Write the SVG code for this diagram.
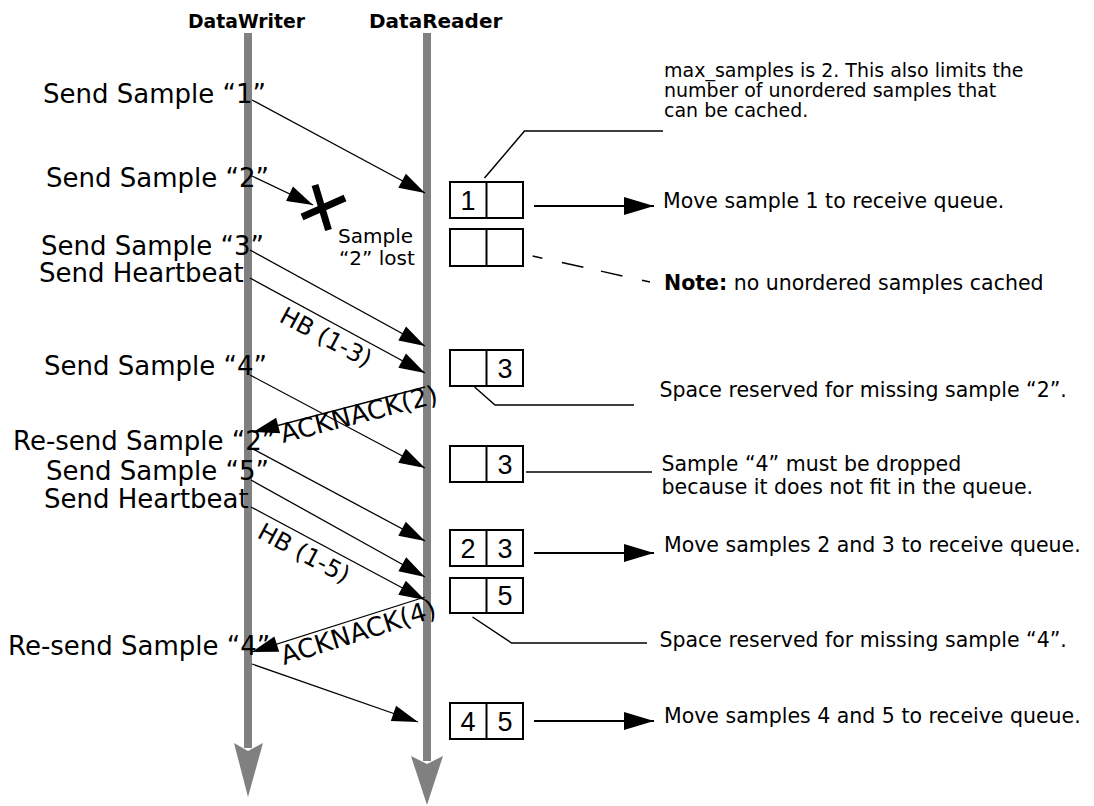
<svg xmlns="http://www.w3.org/2000/svg" width="1094" height="806" viewBox="0 0 1094 806">
<defs>
<style>
.hdr{font-family:"DejaVu Sans",sans-serif;font-weight:bold;font-size:20px;fill:#000}
.lbl{font-family:"DejaVu Sans",sans-serif;font-size:26px;fill:#000}
.rot{font-family:"DejaVu Sans",sans-serif;font-size:24px;fill:#000}
.ack{font-family:"DejaVu Sans",sans-serif;font-size:26px;fill:#000}
.sm{font-family:"DejaVu Sans",sans-serif;font-size:20px;fill:#000}
.note{font-family:"DejaVu Sans",sans-serif;font-size:20.5px;fill:#000}
.top{font-family:"DejaVu Sans",sans-serif;font-size:19px;fill:#000}
.dig{font-family:"Liberation Sans",Arial,sans-serif;font-size:27px;fill:#000;text-anchor:middle}
.life{stroke:#808080;stroke-width:8;fill:none}
.lifeh{fill:#808080}
.msg{stroke:#000;stroke-width:1.3;fill:none;marker-end:url(#ah)}
.out{stroke:#000;stroke-width:2;fill:none;marker-end:url(#ah2)}
.lead{stroke:#000;stroke-width:1.5;fill:none}
.box{fill:#fff;stroke:#000;stroke-width:2}
</style>
<marker id="ah" markerUnits="userSpaceOnUse" viewBox="-28 -9 29 18" refX="0" refY="0" markerWidth="29" markerHeight="18" orient="auto"><path d="M0,0 L-26,-8 L-26,8 Z" fill="#000"/></marker>
<marker id="ah2" markerUnits="userSpaceOnUse" viewBox="-31 -10 32 20" refX="0" refY="0" markerWidth="32" markerHeight="20" orient="auto"><path d="M0,0 L-30,-9 L-30,9 Z" fill="#000"/></marker>
</defs>
<rect width="1094" height="806" fill="#fff"/>

<g id="lifeline-writer">
<text class="hdr" x="188" y="28" textLength="117" lengthAdjust="spacingAndGlyphs">DataWriter</text>
<line class="life" x1="248" y1="33" x2="248" y2="748"/>
<polygon class="lifeh" points="234,743 248,751 263,743 248,797"/>
</g>
<g id="lifeline-reader">
<text class="hdr" x="369" y="28">DataReader</text>
<line class="life" x1="427" y1="33" x2="427" y2="761"/>
<polygon class="lifeh" points="411,756 427,764 443,756 427,805"/>
</g>

<g id="labels">
<text class="lbl" x="43" y="103">Send Sample “1”</text>
<text class="lbl" x="46" y="187">Send Sample “2”</text>
<text class="lbl" x="41" y="255">Send Sample “3”</text>
<text class="lbl" x="39" y="282">Send Heartbeat</text>
<text class="lbl" x="44" y="375">Send Sample “4”</text>
<text class="lbl" x="13" y="450">Re-send Sample “2”</text>
<text class="lbl" x="46" y="480">Send Sample “5”</text>
<text class="lbl" x="44" y="508">Send Heartbeat</text>
<text class="lbl" x="8" y="655">Re-send Sample “4”</text>
</g>

<g id="lost">
<line x1="302" y1="217" x2="345" y2="198" stroke="#000" stroke-width="7"/>
<line x1="315" y1="185" x2="328.5" y2="230" stroke="#000" stroke-width="7"/>
<text class="sm" x="338" y="243">Sample</text>
<text class="sm" x="339" y="265">“2” lost</text>
</g>

<g id="connectors">
<line class="msg" x1="252" y1="100" x2="425" y2="193"/>
<line class="msg" x1="252" y1="176" x2="313" y2="205"/>
<line class="msg" x1="250" y1="250" x2="425" y2="346"/>
<line class="msg" x1="250" y1="278" x2="425" y2="373"/>
<line class="msg" x1="250" y1="375" x2="425" y2="468"/>
<line class="msg" x1="425" y1="387" x2="253" y2="432"/>
<line class="msg" x1="251" y1="448" x2="425" y2="541"/>
<line class="msg" x1="251" y1="480" x2="425" y2="577"/>
<line class="msg" x1="251" y1="507" x2="425" y2="600"/>
<line class="msg" x1="425" y1="597" x2="252" y2="652"/>
<line class="msg" x1="252" y1="664" x2="418" y2="722"/>
<line class="out" x1="534" y1="206" x2="654" y2="206"/>
<line class="out" x1="534" y1="553" x2="654" y2="553"/>
<line class="out" x1="534" y1="721" x2="654" y2="721"/>
<polyline class="lead" points="484.5,178 524.5,131 663,131"/>
<line class="lead" x1="532.6" y1="256" x2="650" y2="282" stroke-dasharray="10 20 22 18 22 20 9"/>
<polyline class="lead" points="474.6,387 495,405 634,405"/>
<line class="lead" x1="526" y1="472" x2="652" y2="472"/>
<polyline class="lead" points="472.5,617 511.6,643 647,643"/>
</g>

<g id="msg-labels">
<text class="rot" transform="translate(278,321) rotate(28)">HB (1-3)</text>
<text class="rot" transform="translate(256,537) rotate(28)">HB (1-5)</text>
<text class="ack" transform="translate(283,443) rotate(-14.5)">ACKNACK(2)</text>
<text class="ack" transform="translate(284,665) rotate(-17.5)">ACKNACK(4)</text>
</g>

<g id="box1"><rect class="box" x="450" y="182" width="73" height="36"/><line class="box" x1="486.5" y1="182" x2="486.5" y2="218"/><text class="dig" x="468" y="210">1</text></g>
<g id="box2"><rect class="box" x="450" y="229" width="73" height="37"/><line class="box" x1="486.5" y1="229" x2="486.5" y2="266"/></g>
<g id="box3"><rect class="box" x="450" y="350" width="73" height="36"/><line class="box" x1="486.5" y1="350" x2="486.5" y2="386"/><text class="dig" x="505" y="378">3</text></g>
<g id="box4"><rect class="box" x="450" y="446" width="73" height="36"/><line class="box" x1="486.5" y1="446" x2="486.5" y2="482"/><text class="dig" x="505" y="474">3</text></g>
<g id="box5"><rect class="box" x="450" y="530" width="73" height="36"/><line class="box" x1="486.5" y1="530" x2="486.5" y2="566"/><text class="dig" x="468" y="558">2</text><text class="dig" x="505" y="558">3</text></g>
<g id="box6"><rect class="box" x="450" y="578" width="73" height="35"/><line class="box" x1="486.5" y1="578" x2="486.5" y2="613"/><text class="dig" x="505" y="605">5</text></g>
<g id="box7"><rect class="box" x="450" y="703" width="73" height="36"/><line class="box" x1="486.5" y1="703" x2="486.5" y2="739"/><text class="dig" x="468" y="731">4</text><text class="dig" x="505" y="731">5</text></g>

<g id="annotations">
<text class="top" x="664" y="77">max_samples is 2. This also limits the</text>
<text class="top" x="664" y="97">number of unordered samples that</text>
<text class="top" x="664" y="117">can be cached.</text>
<text class="note" x="663" y="208">Move sample 1 to receive queue.</text>
<text class="note" x="664" y="290"><tspan font-weight="bold">Note:</tspan> no unordered samples cached</text>
<text class="note" x="659.5" y="397">Space reserved for missing sample “2”.</text>
<text class="note" x="661.5" y="471">Sample “4” must be dropped</text>
<text class="note" x="661.5" y="494">because it does not fit in the queue.</text>
<text class="note" x="664" y="552">Move samples 2 and 3 to receive queue.</text>
<text class="note" x="659.5" y="647">Space reserved for missing sample “4”.</text>
<text class="note" x="664" y="723">Move samples 4 and 5 to receive queue.</text>
</g>
</svg>
